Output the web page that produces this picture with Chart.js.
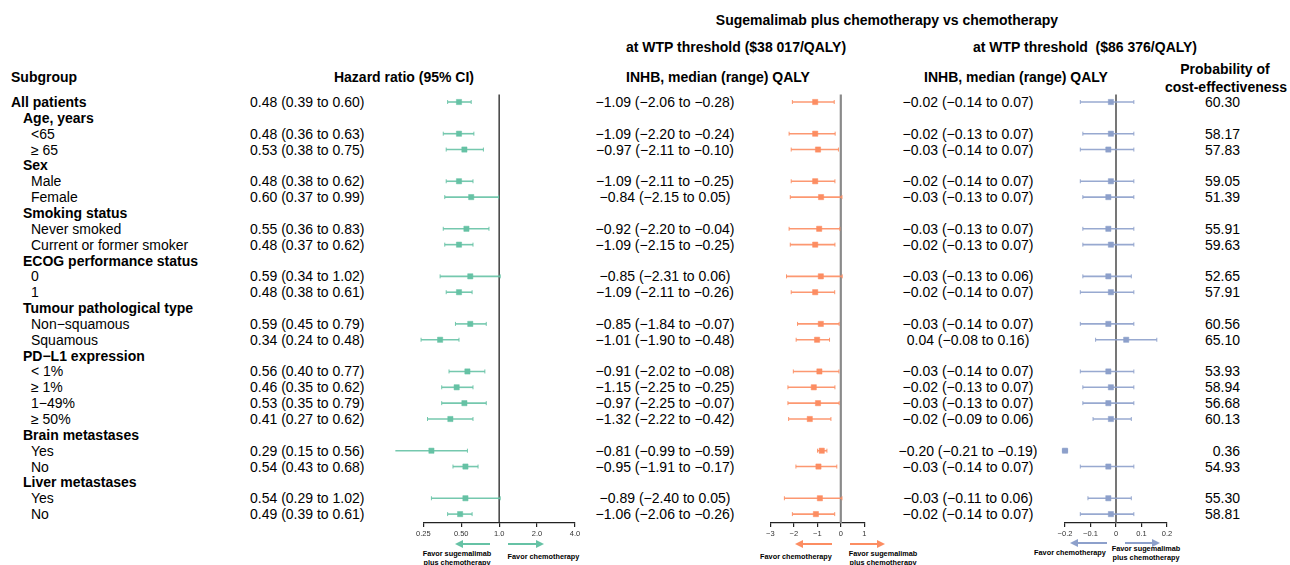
<!DOCTYPE html>
<html><head><meta charset="utf-8">
<script src="https://cdn.jsdelivr.net/npm/chart.js@4/dist/chart.umd.min.js"></script>
<style>
html,body{margin:0;padding:0;background:#fff;}
#wrap{position:relative;width:1290px;height:565px;overflow:hidden;background:#fff;font-family:"Liberation Sans",Arial,sans-serif;color:#000;}
.t{position:absolute;white-space:pre;line-height:1;}
.b{font-weight:bold;}
.panel{position:absolute;}
</style></head>
<body><div id="wrap"></div>
<script>
// ---------- DATA ----------
const rowLabels = ["All patients","Age, years","<65","\u2265 65","Sex","Male","Female","Smoking status","Never smoked","Current or former smoker","ECOG performance status","0","1","Tumour pathological type","Non\u2212squamous","Squamous","PD\u2212L1 expression","< 1%","\u2265 1%","1\u221249%","\u2265 50%","Brain metastases","Yes","No","Liver metastases","Yes","No"];
const rowTypes = ["top","cat","item","item","cat","item","item","cat","item","item","cat","item","item","cat","item","item","cat","item","item","item","item","cat","item","item","cat","item","item"];

const hrEst = [0.48,null,0.48,0.53,null,0.48,0.60,null,0.55,0.48,null,0.59,0.48,null,0.59,0.34,null,0.56,0.46,0.53,0.41,null,0.29,0.54,null,0.54,0.49];
const hrLo  = [0.39,null,0.36,0.38,null,0.38,0.37,null,0.36,0.37,null,0.34,0.38,null,0.45,0.24,null,0.40,0.35,0.35,0.27,null,0.15,0.43,null,0.29,0.39];
const hrHi  = [0.60,null,0.63,0.75,null,0.62,0.99,null,0.83,0.62,null,1.02,0.61,null,0.79,0.48,null,0.77,0.62,0.79,0.62,null,0.56,0.68,null,1.02,0.61];

const inhb1Med = [-1.09,null,-1.09,-0.97,null,-1.09,-0.84,null,-0.92,-1.09,null,-0.85,-1.09,null,-0.85,-1.01,null,-0.91,-1.15,-0.97,-1.32,null,-0.81,-0.95,null,-0.89,-1.06];
const inhb1Lo  = [-2.06,null,-2.20,-2.11,null,-2.11,-2.15,null,-2.20,-2.15,null,-2.31,-2.11,null,-1.84,-1.90,null,-2.02,-2.25,-2.25,-2.22,null,-0.99,-1.91,null,-2.40,-2.06];
const inhb1Hi  = [-0.28,null,-0.24,-0.10,null,-0.25,0.05,null,-0.04,-0.25,null,0.06,-0.26,null,-0.07,-0.48,null,-0.08,-0.25,-0.07,-0.42,null,-0.59,-0.17,null,0.05,-0.26];

const inhb2Med = [-0.02,null,-0.02,-0.03,null,-0.02,-0.03,null,-0.03,-0.02,null,-0.03,-0.02,null,-0.03,0.04,null,-0.03,-0.02,-0.03,-0.02,null,-0.20,-0.03,null,-0.03,-0.02];
const inhb2Lo  = [-0.14,null,-0.13,-0.14,null,-0.14,-0.13,null,-0.13,-0.13,null,-0.13,-0.14,null,-0.14,-0.08,null,-0.14,-0.13,-0.13,-0.09,null,-0.21,-0.14,null,-0.11,-0.14];
const inhb2Hi  = [0.07,null,0.07,0.07,null,0.07,0.07,null,0.07,0.07,null,0.06,0.07,null,0.07,0.16,null,0.07,0.07,0.07,0.06,null,-0.19,0.07,null,0.06,0.07];

const probCE = [60.30,null,58.17,57.83,null,59.05,51.39,null,55.91,59.63,null,52.65,57.91,null,60.56,65.10,null,53.93,58.94,56.68,60.13,null,0.36,54.93,null,55.30,58.81];

const hrTicks = [0.25,0.5,1,2,4];
const hrTickLabels = ["0.25","0.50","1.0","2.0","4.0"];
const inhb1Ticks = [-3,-2,-1,0,1];
const inhb1TickLabels = ["\u22123","\u22122","\u22121","0","1"];
const inhb2Ticks = [-0.2,-0.1,0,0.1,0.2];
const inhb2TickLabels = ["\u22120.2","\u22120.1","0","0.1","0.2"];

// ---------- LAYOUT ----------
const ROW0 = 102, ROWSTEP = 15.85;
const wrap = document.getElementById('wrap');
function txt(s, x, y, o) {
  o = o || {};
  const d = document.createElement('div');
  d.className = 't' + (o.bold ? ' b' : '');
  d.textContent = s;
  d.style.fontSize = (o.size || 14) + 'px';
  if (o.color) d.style.color = o.color;
  let tx = '0';
  if (o.align === 'center') tx = '-50%';
  else if (o.align === 'right') tx = '-100%';
  d.style.left = x + 'px';
  d.style.top = y + 'px';
  d.style.transform = 'translate(' + tx + ',-50%)';
  wrap.appendChild(d);
  return d;
}
const fmt = v => v.toFixed(2).replace('-', '\u2212');

// headers
txt("Sugemalimab plus chemotherapy vs chemotherapy", 887, 20, {bold:true, size:14, align:'center'});
txt("at WTP threshold ($38 017/QALY)", 736, 47, {bold:true, size:14, align:'center'});
txt("at WTP threshold  ($86 376/QALY)", 1085, 47, {bold:true, size:14, align:'center'});
txt("Subgroup", 11, 77, {bold:true, size:14});
txt("Hazard ratio (95% CI)", 404, 77, {bold:true, size:14, align:'center'});
txt("INHB, median (range) QALY", 718, 77, {bold:true, size:14, align:'center'});
txt("INHB, median (range) QALY", 1016, 77, {bold:true, size:14, align:'center'});
txt("Probability of", 1225, 69, {bold:true, size:14, align:'center'});
txt("cost-effectiveness", 1226, 87, {bold:true, size:14, align:'center'});

rowLabels.forEach((lab, i) => {
  const y = ROW0 + ROWSTEP * i;
  const t = rowTypes[i];
  if (t === 'top') txt(lab, 11, y, {bold:true, size:14});
  else if (t === 'cat') txt(lab, 23, y, {bold:true, size:14});
  else txt(lab, 31, y, {size:14});
  if (hrEst[i] !== null) {
    txt(fmt(hrEst[i]) + " (" + fmt(hrLo[i]) + " to " + fmt(hrHi[i]) + ")", 250, y, {size:14});
    txt(fmt(inhb1Med[i]) + " (" + fmt(inhb1Lo[i]) + " to " + fmt(inhb1Hi[i]) + ")", 665, y, {size:14, align:'center'});
    txt(fmt(inhb2Med[i]) + " (" + fmt(inhb2Lo[i]) + " to " + fmt(inhb2Hi[i]) + ")", 968, y, {size:14, align:'center'});
    txt(probCE[i].toFixed(2), 1240, y, {size:14, align:'right'});
  }
});

// favor labels
txt("Favor sugemalimab", 457, 554, {bold:true, size:7.3, align:'center'});
txt("plus chemotherapy", 457, 562.5, {bold:true, size:7.3, align:'center'});
txt("Favor chemotherapy", 543.5, 557, {bold:true, size:7.3, align:'center'});
txt("Favor chemotherapy", 796, 557, {bold:true, size:7.3, align:'center'});
txt("Favor sugemalimab", 883, 554, {bold:true, size:7.3, align:'center'});
txt("plus chemotherapy", 883, 562.5, {bold:true, size:7.3, align:'center'});
txt("Favor chemotherapy", 1070, 553, {bold:true, size:7.3, align:'center'});
txt("Favor sugemalimab", 1146, 549, {bold:true, size:7.3, align:'center'});
txt("plus chemotherapy", 1146, 557.5, {bold:true, size:7.3, align:'center'});

// ---------- PANELS ----------
const PANEL_TOP = 85, PANEL_H = 480, AXIS_Y = 523, AREA_TOP = 94;
const AXIS_H = 16;
const YMIN = (AREA_TOP - ROW0) / ROWSTEP;
const YMAX = (AXIS_Y - ROW0) / ROWSTEP;

function makePanel(cfg) {
  const div = document.createElement('div');
  div.className = 'panel';
  div.style.left = cfg.left + 'px';
  div.style.top = PANEL_TOP + 'px';
  div.style.width = cfg.width + 'px';
  div.style.height = PANEL_H + 'px';
  const cv = document.createElement('canvas');
  cv.width = cfg.width; cv.height = PANEL_H;
  cv.style.width = cfg.width + 'px'; cv.style.height = PANEL_H + 'px';
  div.appendChild(cv);
  wrap.appendChild(div);

  const datasets = [];
  datasets.push({type:'line', data:[{x:cfg.ref, y:YMIN + 0.03}, {x:cfg.ref, y:YMAX}], borderColor:cfg.refColor, borderWidth:cfg.refWidth, pointRadius:0, clip:false, order:5});
  const caps = [], marks = [];
  cfg.est.forEach((e, i) => {
    if (e === null) return;
    datasets.push({type:'line', data:[{x:cfg.lo[i], y:i}, {x:cfg.hi[i], y:i}], borderColor:cfg.lineColor, borderWidth:1.6, pointRadius:0, clip:false, order:3});
    caps.push({x:cfg.lo[i], y:i}, {x:cfg.hi[i], y:i});
    marks.push({x:e, y:i});
  });
  datasets.push({type:'scatter', data:caps, pointStyle:'line', rotation:90, radius:2, borderColor:cfg.lineColor, borderWidth:1, clip:false, order:2});
  datasets.push({type:'scatter', data:marks, pointStyle:'rect', radius:3.7, backgroundColor:cfg.color, borderColor:cfg.color, borderWidth:0.5, clip:false, order:1});

  const arrowPlugin = {
    id:'arrows',
    afterDraw(chart) {
      const ctx = chart.ctx;
      ctx.save();
      ctx.strokeStyle = cfg.color; ctx.fillStyle = cfg.color; ctx.lineWidth = 2;
      cfg.arrows.forEach(a => {
        const x1 = a[0] - cfg.left, x2 = a[1] - cfg.left, y = a[2] - PANEL_TOP;
        const dir = Math.sign(x2 - x1);
        ctx.beginPath(); ctx.moveTo(x1, y); ctx.lineTo(x2 - dir * 6, y); ctx.stroke();
        ctx.beginPath(); ctx.moveTo(x2, y); ctx.lineTo(x2 - dir * 8, y - 4); ctx.lineTo(x2 - dir * 8, y + 4); ctx.closePath(); ctx.fill();
      });
      ctx.restore();
    }
  };

  new Chart(cv, {
    type:'scatter',
    data:{datasets},
    plugins:[arrowPlugin],
    options:{
      responsive:false, animation:false, devicePixelRatio:1,
      layout:{padding:{left:cfg.padL, right:cfg.padR, top:AREA_TOP - PANEL_TOP, bottom:PANEL_H - (AXIS_Y - PANEL_TOP) - AXIS_H}},
      plugins:{legend:{display:false}, tooltip:{enabled:false}},
      scales:{
        x:{
          type:cfg.xType, min:cfg.min, max:cfg.max,
          afterBuildTicks: s => { s.ticks = cfg.ticks.map(v => ({value:v})); },
          afterFit: s => { s.height = AXIS_H; },
          ticks:{autoSkip:false, maxRotation:0, padding:2, color:'#333', font:{family:'"Liberation Sans", Arial, sans-serif', size:7.5},
            callback:(v, idx) => cfg.tickLabels[idx]},
          grid:{drawOnChartArea:false, drawTicks:true, tickLength:4, color:'#222', lineWidth:1.2},
          border:{display:true, color:'#222', width:1.3}
        },
        y:{type:'linear', reverse:true, min:YMIN, max:YMAX, display:false}
      }
    }
  });
}

makePanel({left:380, width:220, padL:43.3, padR:25, xType:'logarithmic', min:0.25, max:4, ticks:hrTicks, tickLabels:hrTickLabels,
  est:hrEst, lo:hrLo, hi:hrHi, ref:1, refColor:'#222', refWidth:1.3, color:'#66C2A5', lineColor:'rgba(102,194,165,0.9)',
  arrows:[[490,455,544],[508,544,544]]});
makePanel({left:740, width:150, padL:30.3, padR:25.7, xType:'linear', min:-3, max:1, ticks:inhb1Ticks, tickLabels:inhb1TickLabels,
  est:inhb1Med, lo:inhb1Lo, hi:inhb1Hi, ref:0, refColor:'#8a8a8a', refWidth:2.2, color:'#FC8D62', lineColor:'rgba(252,141,98,0.9)',
  arrows:[[832,795,544],[850,885,544]]});
makePanel({left:1040, width:160, padL:25, padR:33, xType:'linear', min:-0.2, max:0.2, ticks:inhb2Ticks, tickLabels:inhb2TickLabels,
  est:inhb2Med, lo:inhb2Lo, hi:inhb2Hi, ref:0, refColor:'#555', refWidth:1.6, color:'#8DA0CB', lineColor:'rgba(141,160,203,0.9)',
  arrows:[[1107,1070,543],[1125,1160,543]]});
</script></body></html>
